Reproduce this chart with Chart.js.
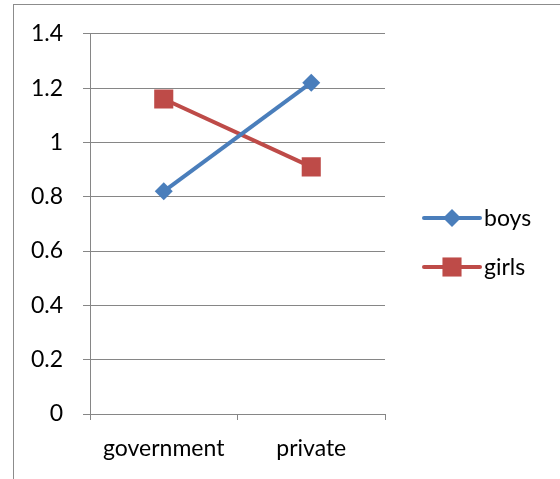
<!DOCTYPE html>
<html>
<head>
<meta charset="utf-8">
<script src="https://cdn.jsdelivr.net/npm/chart.js@4/dist/chart.umd.min.js"></script>
<style>
  body { margin: 0; background: #fff; }
  #wrap { position: relative; width: 560px; height: 479px; overflow: hidden; }
  #frame { position: absolute; left: 13px; top: 4px; width: 700px; height: 600px; border: 1px solid #8c8c8c; }
  canvas { position: absolute; left: 0; top: 0; }
</style>
</head>
<body>
<div id="wrap">
  <div id="frame"></div>
  <canvas id="chart" width="560" height="479"></canvas>
</div>
<script>
const categories = ["government", "private"];
const boys = [0.82, 1.22];
const girls = [1.16, 0.91];
const yTicks = [0, 0.2, 0.4, 0.6, 0.8, 1, 1.2, 1.4];

const gridColor = "#868686";
const fontFamily = "Lato, 'Open Sans', sans-serif";
const fontSize = 23;

// legend drawn like the office one: short line with the marker in the middle
const sideLegend = {
  id: "sideLegend",
  afterDraw(chart) {
    const ctx = chart.ctx;
    const items = [[0, 218], [1, 267]];
    items.forEach(([i, y]) => {
      const ds = chart.data.datasets[i];
      ctx.save();
      ctx.strokeStyle = ds.borderColor;
      ctx.lineWidth = 4;
      ctx.lineCap = "round";
      ctx.beginPath();
      ctx.moveTo(424, y);
      ctx.lineTo(480, y);
      ctx.stroke();
      ctx.fillStyle = ds.borderColor;
      Chart.helpers.drawPoint(ctx, { pointStyle: ds.pointStyle, radius: ds.pointRadius, rotation: 0 }, 452, y);
      ctx.fillStyle = "#000";
      ctx.font = fontSize + "px " + fontFamily;
      ctx.textBaseline = "middle";
      ctx.fillText(ds.label, 484, y + 1);
      ctx.restore();
    });
  }
};

new Chart(document.getElementById("chart").getContext("2d"), {
  type: "line",
  data: {
    labels: categories,
    datasets: [
      {
        label: "boys",
        data: boys,
        borderColor: "#4A7EBB",
        backgroundColor: "#4A7EBB",
        borderWidth: 4,
        pointStyle: "rectRot",
        pointRadius: 9,
        pointBorderWidth: 0,
        tension: 0
      },
      {
        label: "girls",
        data: girls,
        borderColor: "#BE4B48",
        backgroundColor: "#BE4B48",
        borderWidth: 4,
        pointStyle: "rect",
        pointRadius: 13.5,
        pointBorderWidth: 0,
        tension: 0
      }
    ]
  },
  options: {
    responsive: false,
    animation: false,
    layout: { padding: { left: 0, right: 175, top: 29, bottom: 0 } },
    plugins: {
      legend: { display: false },
      tooltip: { enabled: false }
    },
    scales: {
      x: {
        offset: true,
        grid: { drawOnChartArea: false, color: gridColor, tickLength: 6, offset: true },
        border: { display: true, color: gridColor, width: 1 },
        ticks: { color: "#000", font: { family: fontFamily, size: fontSize }, padding: 15 },
        afterFit(scale) { scale.height = 65; }
      },
      y: {
        min: 0,
        max: 1.4,
        afterBuildTicks(scale) { scale.ticks = yTicks.map(v => ({ value: v })); },
        grid: { color: gridColor, tickLength: 7 },
        border: { display: true, color: gridColor, width: 1 },
        ticks: {
          color: "#000",
          font: { family: fontFamily, size: fontSize },
          padding: 20,
          callback: v => String(v)
        },
        afterFit(scale) { scale.width = 90; }
      }
    }
  },
  plugins: [sideLegend]
});
</script>
</body>
</html>
